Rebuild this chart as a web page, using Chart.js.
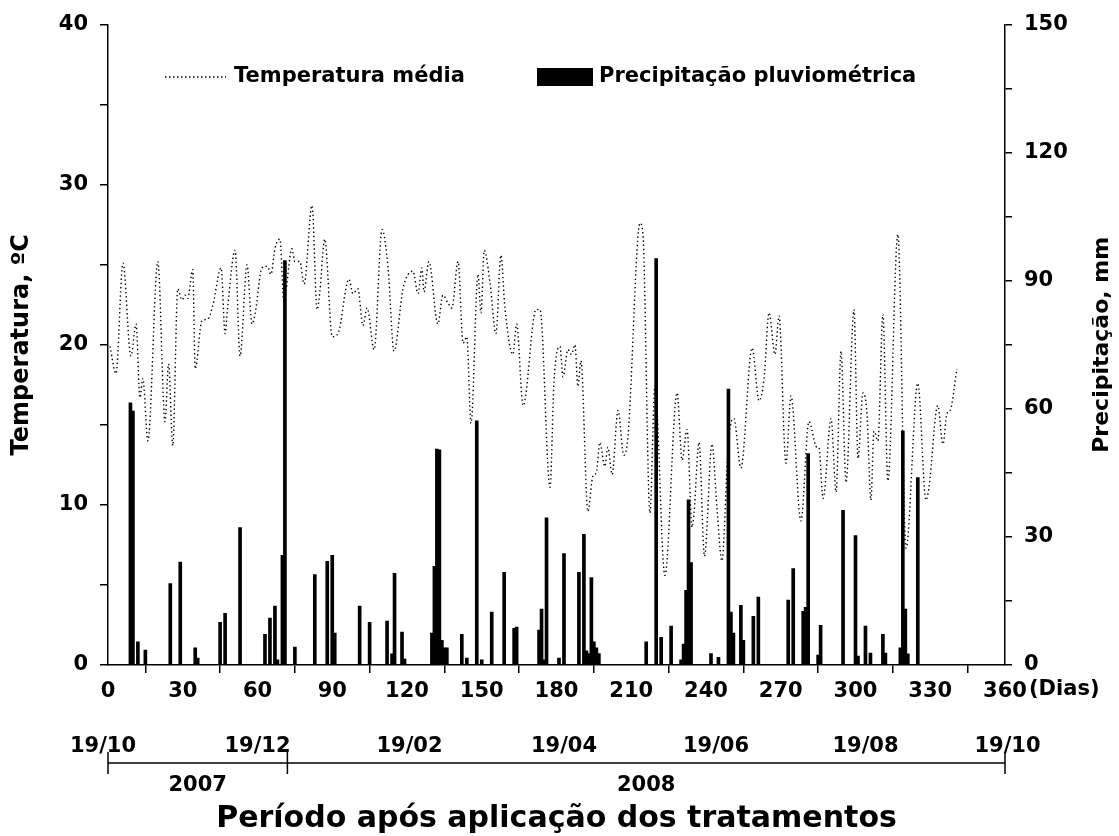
<!DOCTYPE html>
<html lang="pt">
<head>
<meta charset="utf-8">
<title>Temperatura e precipitação</title>
<script src="https://cdn.jsdelivr.net/npm/chart.js@4/dist/chart.umd.min.js"></script>
<style>
  html, body { margin: 0; padding: 0; background: #fff; }
  canvas { display: block; }
</style>
</head>
<body>
<canvas id="climaChart" width="1119" height="836"></canvas>
<script>
// temperatura média diária (dias após aplicação, ºC)
const tempDays = [0.8, 3.2, 6, 9.2, 11.3, 12.8, 14, 16, 20, 22.9, 24.3, 26, 28, 29.7, 31, 32, 34, 35, 37.7, 40, 42, 45.4, 47, 48, 51, 53, 55.8, 57.8,
  59, 61.8, 64, 65.4, 67, 69, 70.6, 73.8, 75, 77, 78.7, 81.9, 83.9, 85, 87, 90, 92.3, 96.7, 98.3, 100.3, 102.3, 104, 106.8, 110, 112.4, 114.8, 118.4,
  122.4, 124.4, 126, 126.8, 128.8, 132.4, 134.4, 136.5, 138, 140.5, 142.5, 144, 145.7, 148.5, 149.7, 151, 153.3, 155.7, 157.7, 159.3, 162.5, 164, 166.6, 171.8, 173.4, 177.4, 179,
  181.4, 182.6, 184.6, 186, 187.4, 188.6, 189.8, 192.6, 194.6, 196, 197.4, 199.4, 200.6, 202.3, 204.7, 207, 208.7, 213.5, 214.7, 217.5, 219.5, 223.5, 228.4, 230.4, 232.4, 234.4, 235.2, 237.2, 239.4,
  242.4, 244.4, 246.4, 248.8, 250, 251.2, 254, 258.5, 261.3, 263.3, 265.3, 267.7, 269.3, 272.1, 274.1, 278.1, 281.3, 284.5, 285.3, 287, 290.2, 292.2, 294.2, 296.2, 299.4,
  301, 303, 304.6, 306.2, 307.4, 309, 311, 313, 317, 320.3, 325, 328.3, 329.5, 333, 335.1, 336.7, 338, 340.7];
const tempValues = [19.9, 18.2, 25.1, 19.3, 21.3, 16.7, 17.9, 14.0, 25.2, 15.2, 18.8, 13.7, 23.5, 22.8, 23.1, 22.9, 24.7, 18.5, 21.5, 21.6, 22.4, 24.8, 20.7, 22.3, 25.9, 19.3, 25.0, 21.3,
  21.9, 24.8, 24.9, 24.4, 26.0, 26.6, 22.7, 26.0, 25.2, 25.2, 23.8, 28.7, 22.2, 23.3, 26.6, 20.5, 20.7, 24.1, 23.2, 23.5, 21.2, 22.3, 19.7, 27.2, 24.8, 19.6, 23.5,
  24.6, 23.2, 24.8, 23.3, 25.2, 21.3, 23.1, 22.6, 22.3, 25.2, 20.1, 20.5, 15.1, 24.4, 22.0, 25.9, 23.9, 20.7, 25.6, 22.3, 19.4, 21.3, 16.2, 22.2, 22.2, 11.1, 17.7,
  19.9, 18.0, 19.7, 19.4, 20.0, 17.4, 19.0, 9.6, 11.8, 12.0, 13.9, 12.4, 13.6, 11.9, 15.9, 13.1, 14.3, 27.6, 26.9, 9.5, 17.4, 5.6, 17.0, 12.8, 14.7, 8.6, 9.5, 13.9, 6.8,
  13.8, 9.8, 6.5, 13.4, 15.1, 15.4, 12.3, 19.8, 16.5, 17.9, 22.0, 19.4, 21.8, 12.6, 16.8, 9.0, 15.2, 13.6, 13.6, 10.4, 15.4, 10.8, 19.6, 11.4, 22.2,
  12.9, 17.0, 15.7, 10.3, 14.6, 14.0, 21.9, 11.5, 26.9, 7.3, 17.6, 10.3, 11.1, 16.2, 13.8, 15.7, 15.9, 18.5];

// precipitação pluviométrica (dias com chuva, mm)
const rainDays = [9, 10, 12, 15, 25, 29, 35, 36, 45, 47, 53, 63, 65, 67, 68, 70, 71, 75, 83, 88, 90, 91, 101, 105, 112, 114, 115, 118, 119,
  130, 131, 132, 133, 134, 135, 136, 142, 144, 148, 150, 154, 159, 163, 164, 173, 174, 175, 176, 181, 183, 189, 191, 192, 193, 194, 195, 196, 197,
  216, 220, 222, 226, 230, 231, 232, 233, 234, 242, 245, 249, 250, 251, 254, 255, 259, 261, 273, 275, 279, 280, 281, 285, 286, 295,
  300, 301, 304, 306, 311, 312, 318, 319, 320, 321, 325];
const rainValues = [61.4, 59.5, 5.4, 3.5, 19.1, 24.1, 4.0, 1.6, 10.0, 12.1, 32.2, 7.2, 11.0, 13.8, 1.2, 25.7, 94.7, 4.2, 21.2, 24.3, 25.7, 7.5, 13.8, 10.0, 10.3, 2.6, 21.5, 7.7, 1.4,
  7.5, 23.1, 50.6, 50.4, 5.8, 4.0, 4.0, 7.2, 1.6, 57.2, 1.2, 12.4, 21.7, 8.6, 8.9, 8.2, 13.1, 1.2, 34.5, 1.6, 26.1, 21.7, 30.6, 3.3, 2.7, 20.5, 5.4, 4.0, 2.7,
  5.4, 95.2, 6.5, 9.1, 1.2, 4.9, 17.5, 38.7, 24.0, 2.7, 1.8, 64.6, 12.4, 7.5, 14.0, 5.8, 11.4, 15.9, 15.2, 22.6, 12.6, 13.5, 49.5, 2.3, 9.3, 36.2,
  30.3, 2.1, 9.1, 2.8, 7.2, 2.8, 4.0, 54.8, 13.1, 2.6, 43.9];

// eixo de datas abaixo do gráfico
const dateLabels = ['19/10', '19/12', '19/02', '19/04', '19/06', '19/08', '19/10'];
const dateLabelDays = [-2, 60, 121, 183, 244, 304, 361];
const yearLabels = ['2007', '2008'];
const yearBounds = [0, 72, 360];

const FONT = "'DejaVu Sans', 'Liberation Sans', Arial, sans-serif";

// legenda, título do eixo direito e textos extras
const extrasPlugin = {
  id: 'extras',
  afterDraw(chart) {
    const { ctx, chartArea, scales: { x } } = chart;
    ctx.save();
    ctx.fillStyle = '#000';
    ctx.strokeStyle = '#000';

    // legenda
    ctx.font = `bold 21px ${FONT}`;
    ctx.textBaseline = 'middle';
    ctx.textAlign = 'left';
    ctx.lineWidth = 1.5;
    ctx.setLineDash([1.5, 2.5]);
    ctx.beginPath();
    ctx.moveTo(165, 77);
    ctx.lineTo(226, 77);
    ctx.stroke();
    ctx.setLineDash([]);
    ctx.fillText('Temperatura média', 234, 77);
    ctx.fillRect(537, 68, 56, 18);
    ctx.fillText('Precipitação pluviométrica', 599, 77);

    // (Dias)
    ctx.fillText('(Dias)', x.getPixelForValue(360) + 24, 690);

    // título do eixo direito (lido de baixo para cima)
    ctx.save();
    ctx.translate(1102, (chartArea.top + chartArea.bottom) / 2);
    ctx.rotate(-Math.PI / 2);
    ctx.textAlign = 'center';
    ctx.font = `bold 22px ${FONT}`;
    ctx.fillText('Precipitação, mm', 0, 0);
    ctx.restore();

    // datas
    ctx.textAlign = 'center';
    dateLabels.forEach((lbl, i) => {
      ctx.fillText(lbl, x.getPixelForValue(dateLabelDays[i]), 747);
    });

    // linha dos anos
    ctx.lineWidth = 1.5;
    ctx.beginPath();
    ctx.moveTo(x.getPixelForValue(yearBounds[0]), 763);
    ctx.lineTo(x.getPixelForValue(yearBounds[2]), 763);
    yearBounds.forEach(d => {
      const px = x.getPixelForValue(d);
      ctx.moveTo(px, 752);
      ctx.lineTo(px, 774);
    });
    ctx.stroke();

    yearLabels.forEach((lbl, i) => {
      const mid = (yearBounds[i] + yearBounds[i + 1]) / 2;
      ctx.fillText(lbl, x.getPixelForValue(mid), 786);
    });

    // título do eixo x
    ctx.font = `bold 30px ${FONT}`;
    ctx.fillText('Período após aplicação dos tratamentos',
      (x.getPixelForValue(0) + x.getPixelForValue(360)) / 2, 819);
    ctx.restore();
  }
};

const axisFont = { family: FONT, size: 21, weight: 'bold' };

new Chart(document.getElementById('climaChart'), {
  data: {
    datasets: [
      {
        type: 'bar',
        label: 'Precipitação pluviométrica',
        data: rainDays.map((d, i) => ({ x: d, y: rainValues[i] })),
        yAxisID: 'y2',
        backgroundColor: '#000',
        borderWidth: 0,
        barThickness: 3,
        order: 0
      },
      {
        type: 'line',
        label: 'Temperatura média',
        data: tempDays.map((d, i) => ({ x: d, y: tempValues[i] })),
        yAxisID: 'y',
        borderColor: '#000',
        borderWidth: 1.4,
        borderDash: [1.4, 2.8],
        pointRadius: 0,
        cubicInterpolationMode: 'monotone',
        fill: false,
        order: 1
      }
    ]
  },
  options: {
    responsive: false,
    animation: false,
    devicePixelRatio: 1,
    layout: { padding: { top: 22, left: 0, right: 0, bottom: 0 } },
    plugins: {
      legend: { display: false },
      tooltip: { enabled: false }
    },
    scales: {
      x: {
        type: 'linear',
        position: 'bottom',
        min: 0,
        max: 360,
        offset: false,
        ticks: { stepSize: 30, font: axisFont, color: '#000', padding: 6, maxRotation: 0 },
        grid: { drawOnChartArea: false, tickLength: 8, color: '#000', lineWidth: 1.5 },
        border: { color: '#000', width: 1.5 },
        afterFit: s => { s.height = 171; }
      },
      y: {
        position: 'left',
        min: 0,
        max: 40,
        ticks: {
          stepSize: 5,
          font: axisFont,
          color: '#000',
          padding: 12,
          callback: v => (v % 10 === 0 ? v : '')
        },
        grid: { drawOnChartArea: false, tickLength: 8, color: '#000', lineWidth: 1.5 },
        border: { color: '#000', width: 1.5 },
        title: {
          display: true,
          text: 'Temperatura, ºC',
          font: { family: FONT, size: 24, weight: 'bold' },
          color: '#000',
          padding: { top: 7, bottom: 0 }
        },
        afterFit: s => { s.width = 108; }
      },
      y2: {
        position: 'right',
        min: 0,
        max: 150,
        ticks: {
          stepSize: 15,
          font: axisFont,
          color: '#000',
          padding: 12,
          callback: v => (v % 30 === 0 ? v : '')
        },
        grid: { drawOnChartArea: false, tickLength: 7, color: '#000', lineWidth: 1.5 },
        border: { color: '#000', width: 1.5 },
        afterFit: s => { s.width = 114; }
      }
    }
  },
  plugins: [extrasPlugin]
});
</script>
</body>
</html>
